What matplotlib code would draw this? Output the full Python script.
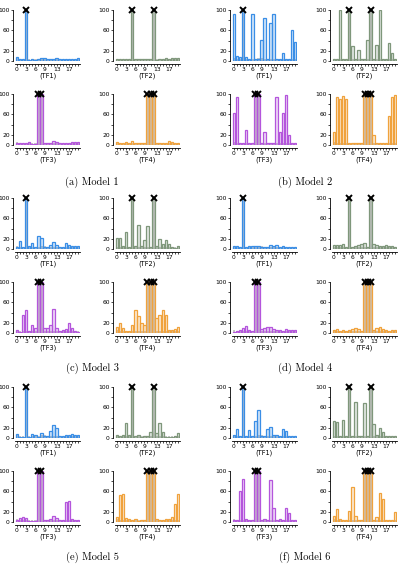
import matplotlib.pyplot as plt
import matplotlib.colors as mcolors
import numpy as np

positions = np.arange(21)
tick_show = [0, 3, 6, 9, 13, 17]
tf_names = ['(TF1)', '(TF2)', '(TF3)', '(TF4)']
tf_colors = ['#3a8ee6', '#7f977b', '#b455dc', '#f0a23c']
motif_sites = [[3], [5, 12], [7, 8], [10, 11, 12]]
captions = ['(a) Model 1', '(b) Model 2', '(c) Model 3',
            '(d) Model 4', '(e) Model 5', '(f) Model 6']

# gray reference bars (true motif positions)
truth_tf1 = [6, 4, 4, 100, 4, 4, 4, 4, 5, 5, 4, 4, 4, 4, 4, 4, 4, 4, 4, 4, 4]
truth_tf2 = [4, 4, 4, 4, 4, 100, 4, 4, 4, 4, 4, 4, 100, 4, 4, 4, 4, 4, 4, 4, 4]
truth_tf3 = [5, 4, 4, 4, 4, 4, 4, 100, 100, 4, 4, 4, 4, 4, 4, 4, 4, 4, 4, 4, 4]
truth_tf4 = [5, 4, 4, 4, 4, 4, 4, 4, 4, 4, 100, 100, 100, 4, 4, 4, 4, 4, 4, 4, 4]
truths = [truth_tf1, truth_tf2, truth_tf3, truth_tf4]

# estimated values per model, TF1..TF4
model1 = [
    [7, 3, 3, 100, 2, 3, 2, 3, 6, 6, 3, 3, 3, 5, 4, 3, 4, 3, 4, 4, 6],
    [3, 3, 3, 3, 3, 100, 3, 3, 3, 3, 3, 4, 100, 2, 3, 4, 6, 4, 5, 5, 5],
    [4, 3, 3, 4, 5, 2, 2, 100, 100, 3, 3, 3, 7, 5, 4, 3, 4, 3, 6, 6, 6],
    [6, 3, 3, 6, 3, 8, 3, 3, 3, 3, 100, 100, 100, 3, 3, 3, 4, 7, 6, 4, 3],
]
model2 = [
    [92, 10, 8, 100, 8, 3, 92, 3, 3, 42, 84, 3, 75, 92, 3, 3, 15, 3, 3, 60, 38],
    [3, 3, 100, 3, 3, 100, 30, 3, 22, 3, 3, 42, 100, 3, 32, 100, 3, 3, 35, 15, 3],
    [62, 95, 3, 3, 30, 3, 3, 100, 100, 3, 25, 3, 3, 3, 95, 25, 62, 98, 20, 3, 3],
    [25, 95, 90, 97, 90, 3, 3, 3, 3, 3, 100, 100, 100, 20, 3, 3, 3, 3, 57, 95, 98],
]
model3 = [
    [3, 16, 3, 100, 5, 11, 3, 25, 22, 4, 3, 8, 13, 8, 4, 3, 11, 8, 5, 5, 5],
    [22, 22, 5, 33, 3, 100, 5, 48, 5, 18, 45, 4, 100, 5, 20, 10, 18, 10, 4, 2, 5],
    [5, 2, 35, 45, 4, 15, 10, 100, 100, 10, 10, 15, 47, 10, 3, 5, 8, 20, 10, 4, 2],
    [12, 20, 10, 3, 3, 15, 45, 33, 20, 15, 100, 100, 100, 30, 35, 45, 35, 5, 5, 7, 12],
]
model4 = [
    [5, 5, 3, 100, 3, 6, 5, 6, 6, 3, 4, 4, 8, 5, 7, 4, 6, 4, 4, 4, 4],
    [8, 8, 8, 10, 3, 100, 3, 6, 7, 10, 12, 4, 100, 10, 8, 5, 6, 7, 5, 5, 4],
    [2, 3, 6, 10, 13, 5, 3, 100, 100, 8, 10, 12, 12, 8, 5, 5, 4, 8, 6, 5, 5],
    [6, 8, 3, 5, 4, 6, 8, 10, 8, 4, 100, 100, 100, 6, 10, 12, 8, 5, 4, 6, 5],
]
model5 = [
    [8, 2, 2, 100, 2, 8, 6, 2, 10, 3, 3, 13, 25, 20, 3, 3, 5, 6, 8, 5, 5],
    [5, 4, 6, 30, 6, 100, 3, 6, 2, 3, 3, 12, 100, 10, 30, 12, 2, 2, 2, 3, 10],
    [4, 8, 10, 8, 2, 2, 2, 100, 100, 3, 3, 5, 12, 8, 4, 4, 40, 42, 6, 3, 3],
    [10, 52, 55, 8, 5, 3, 6, 2, 3, 4, 100, 100, 100, 5, 4, 3, 6, 6, 10, 35, 55],
]
model6 = [
    [5, 18, 3, 100, 3, 15, 3, 33, 55, 3, 3, 18, 22, 6, 5, 3, 18, 13, 4, 3, 3],
    [33, 31, 3, 35, 3, 100, 3, 70, 3, 3, 68, 3, 100, 28, 5, 20, 12, 3, 3, 3, 3],
    [4, 3, 60, 85, 5, 3, 3, 100, 100, 3, 6, 3, 83, 28, 3, 5, 3, 27, 17, 3, 3],
    [12, 25, 5, 3, 3, 22, 68, 12, 4, 3, 100, 100, 100, 3, 10, 57, 45, 3, 3, 3, 20],
]
models = [model1, model2, model3, model4, model5, model6]

W, H = 400, 567
fig = plt.figure(figsize=(W / 100, H / 100), dpi=100)

col_lefts = [[15, 115], [232, 332]]
row_tops = [[10, 94], [198, 282], [387, 471]]
caption_x = [92, 305]
caption_y = [182, 368, 557]
panel_w, panel_h = 65, 51

for k, model in enumerate(models):
    row, col = k // 2, k % 2
    for t in range(4):
        left = col_lefts[col][t % 2]
        top = row_tops[row][t // 2]
        ax = fig.add_axes([left / W, (H - top - panel_h) / H, panel_w / W, panel_h / H])
        color = tf_colors[t]
        ax.bar(positions, truths[t], width=0.85, color='#9a9a9a', alpha=0.55, linewidth=0)
        ax.bar(positions, model[t], width=0.85,
               facecolor=mcolors.to_rgba(color, 0.22), edgecolor=color, linewidth=0.9)
        ax.plot(motif_sites[t], [100] * len(motif_sites[t]), 'x', color='black',
                markersize=4, markeredgewidth=1.4, clip_on=False)

        ax.set_xlim(-0.6, 20.6)
        ax.set_ylim(0, 100)
        ax.set_xticks(positions)
        ax.set_xticklabels([str(p) if p in tick_show else '' for p in positions])
        ax.set_yticks([0, 20, 40, 60, 80, 100])
        ax.set_yticklabels(['0', '20', '', '60', '', '100'], rotation=90, va='center')
        ax.tick_params(labelsize=4.3, length=1.5, width=0.5, pad=0.7)
        ax.set_xlabel(tf_names[t], fontsize=4.8, labelpad=0.5)

        for s in ['top', 'right']:
            ax.spines[s].set_visible(False)
        ax.spines['left'].set_position(('outward', 1.5))
        ax.spines['bottom'].set_position(('outward', 2))
        ax.spines['left'].set_linewidth(0.6)
        ax.spines['bottom'].set_linewidth(0.6)

    fig.text(caption_x[col] / W, 1 - caption_y[row] / H, captions[k],
             ha='center', va='center', fontsize=7.5, family=['cmr10', 'DejaVu Serif'])

fig.savefig('out.png', dpi=100)
